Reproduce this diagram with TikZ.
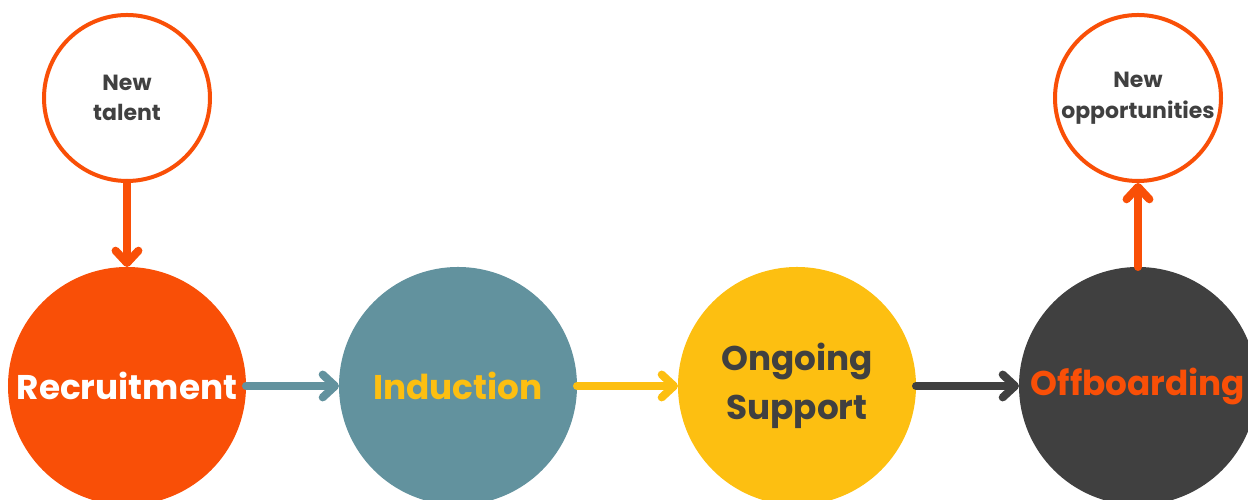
\documentclass[tikz,border=0pt]{standalone}
\usepackage{fontspec}
\setmainfont{Poppins}
\usetikzlibrary{arrows.meta}

\definecolor{flame}{HTML}{F94F07}
\definecolor{slate}{HTML}{62929E}
\definecolor{amber}{HTML}{FDBF11}
\definecolor{charcoal}{HTML}{404040}

\begin{document}
\begin{tikzpicture}[
		stage/.style = {circle, minimum size = 4.76cm, inner sep = 0pt, outer sep = 0pt,
			font = \fontsize{19.5}{28}\selectfont\bfseries, align = center},
		source/.style = {circle, draw = flame, line width = 0.08cm, fill = white,
			minimum size = 3.32cm, inner sep = 0pt, text = charcoal,
			font = \fontsize{12.5}{17.5}\selectfont\bfseries, align = center},
		flow/.style = {line width = 0.16cm, line cap = round,
			-{Straight Barb[length = 7pt, width = 13pt, round]}}
	]

		% contant definitions
		\def\stageY{2.28}
		\def\sourceY{8.04}

		% canvas
		\useasboundingbox (0, 0) rectangle (24.96, 10);

		% life-cycle stages
		\node[stage, fill = flame, text = white] (recruit) at (2.54, \stageY) {Recruitment};
		\node[stage, fill = slate, text = amber] (induct) at (9.16, \stageY) {Induction};
		\node[stage, fill = amber, text = charcoal] (support) at (15.94, \stageY) {Ongoing\\Support};
		\node[stage, fill = charcoal, text = flame] (offboard) at (22.76, \stageY) {Offboarding};

		% entry and exit points
		\node[source] (talent) at (2.54, \sourceY) {New\\talent};
		\node[source] (opport) at (22.76, \sourceY) {New\\opportunities};

		% links between stages
		\draw[flow, flame] (talent) -- (recruit);
		\draw[flow, slate] (recruit) -- (induct);
		\draw[flow, amber] (induct) -- (support);
		\draw[flow, charcoal] (support) -- (offboard);
		\draw[flow, flame] (offboard) -- (opport);

	\end{tikzpicture}
\end{document}
